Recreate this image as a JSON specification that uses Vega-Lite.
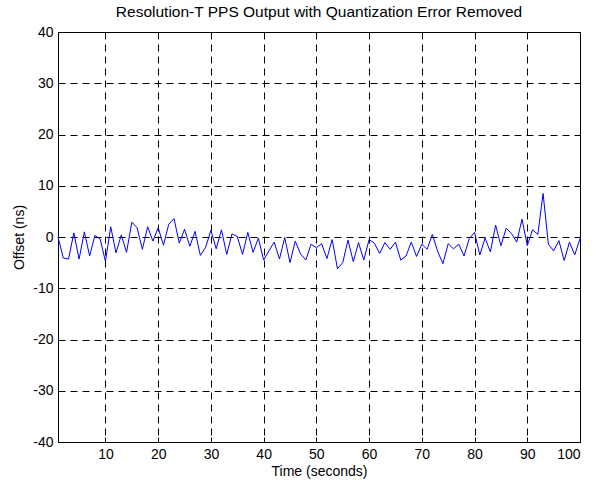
{
  "$schema": "https://vega.github.io/schema/vega-lite/v6.json",
  "autosize": "none",
  "width": 522,
  "height": 410,
  "padding": {"left": 58, "top": 32, "right": 17, "bottom": 51},
  "background": "white",
  "config": {
    "font": "Liberation Sans",
    "view": {"stroke": "#000", "strokeWidth": 1},
    "axis": {
      "labelFont": "Liberation Sans",
      "titleFont": "Liberation Sans",
      "labelFontSize": 14,
      "titleFontSize": 14,
      "titleFontWeight": "normal",
      "labelColor": "#000",
      "titleColor": "#000",
      "domainColor": "#000",
      "tickColor": "#000",
      "gridColor": "#000",
      "gridOpacity": 1,
      "gridDash": [7, 5],
      "gridWidth": 1
    }
  },
  "title": {
    "text": "Resolution-T PPS Output with Quantization Error Removed",
    "font": "Liberation Sans",
    "fontSize": 15.5,
    "fontWeight": "normal",
    "color": "#000",
    "offset": 5
  },
  "data": {
    "values": [
      {"t": 1, "v": 0}, {"t": 2, "v": -4.1}, {"t": 3, "v": -4.3}, {"t": 4, "v": 0.8}, {"t": 5, "v": -4.3},
      {"t": 6, "v": 1.0}, {"t": 7, "v": -3.7}, {"t": 8, "v": 0.3}, {"t": 9, "v": -0.4}, {"t": 10, "v": -4.8},
      {"t": 11, "v": 2.0}, {"t": 12, "v": -3.1}, {"t": 13, "v": 0.4}, {"t": 14, "v": -3.0}, {"t": 15, "v": 2.9},
      {"t": 16, "v": 1.8}, {"t": 17, "v": -2.4}, {"t": 18, "v": 2.0}, {"t": 19, "v": -0.8}, {"t": 20, "v": 1.8},
      {"t": 21, "v": -1.6}, {"t": 22, "v": 2.5}, {"t": 23, "v": 3.6}, {"t": 24, "v": -1.2}, {"t": 25, "v": 1.5},
      {"t": 26, "v": -1.8}, {"t": 27, "v": 1.1}, {"t": 28, "v": -3.6}, {"t": 29, "v": -2.0}, {"t": 30, "v": 1.3},
      {"t": 31, "v": -2.3}, {"t": 32, "v": 1.4}, {"t": 33, "v": -3.4}, {"t": 34, "v": 0.6}, {"t": 35, "v": 0.1},
      {"t": 36, "v": -3.4}, {"t": 37, "v": 0.9}, {"t": 38, "v": -3.0}, {"t": 39, "v": -0.2}, {"t": 40, "v": -4.5},
      {"t": 41, "v": -2.7}, {"t": 42, "v": -1.0}, {"t": 43, "v": -4.3}, {"t": 44, "v": -0.1}, {"t": 45, "v": -5.0},
      {"t": 46, "v": -0.8}, {"t": 47, "v": -3.3}, {"t": 48, "v": -4.5}, {"t": 49, "v": -1.4}, {"t": 50, "v": -2.1},
      {"t": 51, "v": -1.3}, {"t": 52, "v": -4.2}, {"t": 53, "v": -0.5}, {"t": 54, "v": -6.2}, {"t": 55, "v": -5.0},
      {"t": 56, "v": -0.6}, {"t": 57, "v": -4.8}, {"t": 58, "v": -1.1}, {"t": 59, "v": -4.5}, {"t": 60, "v": -0.5},
      {"t": 61, "v": -1.2}, {"t": 62, "v": -3.2}, {"t": 63, "v": -1.1}, {"t": 64, "v": -2.4}, {"t": 65, "v": -1.0},
      {"t": 66, "v": -4.5}, {"t": 67, "v": -3.7}, {"t": 68, "v": -1.0}, {"t": 69, "v": -3.8}, {"t": 70, "v": -1.4},
      {"t": 71, "v": -2.4}, {"t": 72, "v": 0.5}, {"t": 73, "v": -2.8}, {"t": 74, "v": -5.2}, {"t": 75, "v": -1.3},
      {"t": 76, "v": -2.3}, {"t": 77, "v": -1.4}, {"t": 78, "v": -3.7}, {"t": 79, "v": -0.3}, {"t": 80, "v": 0.9},
      {"t": 81, "v": -3.5}, {"t": 82, "v": -0.2}, {"t": 83, "v": -2.9}, {"t": 84, "v": 2.3}, {"t": 85, "v": -1.7},
      {"t": 86, "v": 1.7}, {"t": 87, "v": 0.7}, {"t": 88, "v": -1.0}, {"t": 89, "v": 3.5}, {"t": 90, "v": -1.7},
      {"t": 91, "v": 1.4}, {"t": 92, "v": 0.5}, {"t": 93, "v": 8.5}, {"t": 94, "v": -1.4}, {"t": 95, "v": -2.7},
      {"t": 96, "v": -0.7}, {"t": 97, "v": -4.6}, {"t": 98, "v": -1.0}, {"t": 99, "v": -3.5}, {"t": 100, "v": -0.3}
    ]
  },
  "mark": {"type": "line", "color": "#0000ff", "strokeWidth": 1, "interpolate": "linear"},
  "encoding": {
    "x": {
      "field": "t",
      "type": "quantitative",
      "scale": {"domain": [1, 100], "nice": false, "zero": false},
      "axis": {
        "title": "Time (seconds)",
        "values": [10, 20, 30, 40, 50, 60, 70, 80, 90, 100],
        "labelExpr": "'' + datum.value",
        "tickSize": -5,
        "labelPadding": 10,
        "titlePadding": 3,
        "grid": true
      }
    },
    "y": {
      "field": "v",
      "type": "quantitative",
      "scale": {"domain": [-40, 40], "nice": false},
      "axis": {
        "title": "Offset (ns)",
        "values": [-40, -30, -20, -10, 0, 10, 20, 30, 40],
        "labelExpr": "'' + datum.value",
        "tickSize": -5,
        "labelPadding": 10,
        "titlePadding": 6,
        "grid": true
      }
    }
  }
}
